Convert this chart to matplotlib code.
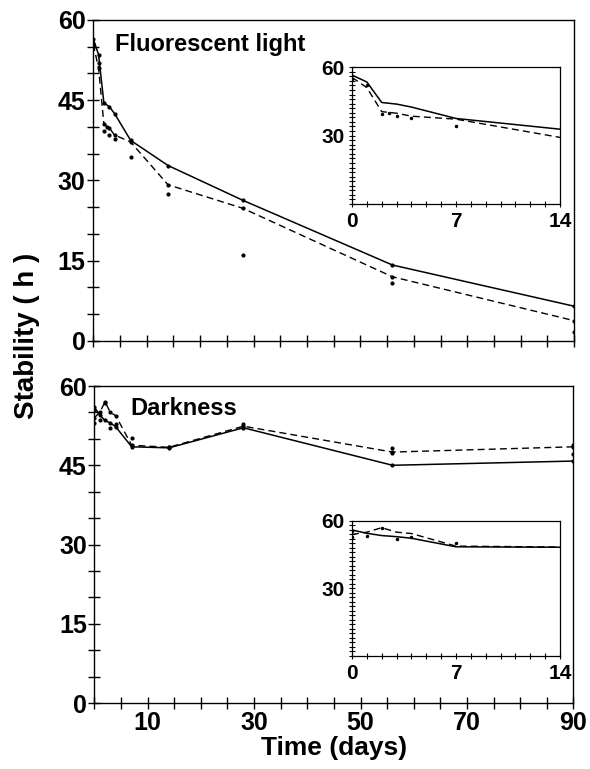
import numpy as np
import matplotlib
matplotlib.use("Agg")
import matplotlib.pyplot as plt
from matplotlib.ticker import MultipleLocator

plt.rcParams['font.family'] = ['Liberation Sans', 'DejaVu Sans']
plt.rcParams['font.weight'] = 'bold'

# fluorescent light: mean curves
days = [0, 1, 2, 3, 4, 7, 14, 28, 56, 90]
light_solid = [56.5, 53.5, 44.5, 43.8, 42.5, 37.5, 32.8, 26.3, 14.2, 6.5]
light_dash = [55.5, 51.0, 40.5, 39.8, 38.5, 37.2, 29.2, 24.8, 12.0, 3.8]
# single replicate points
light_pts_x = [0, 1, 2, 2.5, 3, 4, 7, 14, 28, 56, 90]
light_pts_y = [55.0, 52.0, 39.3, 40.0, 38.5, 37.7, 34.4, 27.5, 16.0, 10.8, 1.7]

# darkness
dark_solid = [56.0, 54.5, 53.5, 53.0, 52.3, 48.5, 48.3, 52.1, 45.0, 45.8]
dark_dash = [54.0, 55.0, 57.0, 55.0, 54.4, 48.8, 48.4, 52.4, 47.5, 48.5]
dark_pts_x = [0, 0, 1, 2, 3, 4, 7, 14, 28, 56, 56, 90, 90]
dark_pts_y = [53.0, 55.5, 53.5, 56.8, 52.0, 52.8, 50.2, 48.5, 52.8, 48.3, 47.4, 48.8, 47.2]

fig = plt.figure(figsize=(5.9, 7.69), dpi=100)

def style_main(ax, show_x):
    ax.set_xlim(0, 90)
    ax.set_ylim(0, 60)
    ax.set_yticks([0, 15, 30, 45, 60])
    ax.yaxis.set_minor_locator(MultipleLocator(5))
    ax.set_xticks([10, 30, 50, 70, 90])
    ax.xaxis.set_minor_locator(MultipleLocator(5))
    ax.tick_params(which='both', direction='inout', length=9, width=1,
                   labelsize=18, pad=1, top=False, right=False)
    if not show_x:
        ax.tick_params(axis='x', labelbottom=False)
    for s in ax.spines.values():
        s.set_linewidth(1)

def style_inset(ax):
    ax.set_xlim(0, 14)
    ax.set_ylim(0, 60)
    ax.set_xticks([0, 7, 14])
    ax.set_yticks([30, 60])
    ax.xaxis.set_minor_locator(MultipleLocator(1))
    ax.yaxis.set_minor_locator(MultipleLocator(2))
    ax.tick_params(which='both', direction='inout', length=5, width=0.8,
                   labelsize=15, pad=3)
    for s in ax.spines.values():
        s.set_linewidth(0.9)

# top panel
ax1 = fig.add_axes([0.158, 0.5566, 0.815, 0.4174])
ax1.plot(days, light_solid, color='black', lw=1.1, marker='o', ms=2)
ax1.plot(days, light_dash, color='black', lw=1, ls=(0, (5, 3)), marker='o', ms=2)
ax1.plot(light_pts_x, light_pts_y, 'o', color='black', ms=2)
style_main(ax1, False)
ax1.text(0.045, 0.925, 'Fluorescent light', transform=ax1.transAxes,
         fontsize=17, fontweight='bold', ha='left', va='center')

ins1 = fig.add_axes([0.5966, 0.7347, 0.3525, 0.178])
ins1.plot(days[:7], light_solid[:7], color='black', lw=1.1)
ins1.plot(days[:7], light_dash[:7], color='black', lw=1, ls=(0, (5, 3)))
ins1.plot(light_pts_x[:7], light_pts_y[:7], 'o', color='black', ms=1.5)
style_inset(ins1)

# bottom panel
ax2 = fig.add_axes([0.160, 0.0858, 0.812, 0.4122])
ax2.plot(days, dark_solid, color='black', lw=1.1, marker='o', ms=2)
ax2.plot(days, dark_dash, color='black', lw=1, ls=(0, (5, 3)), marker='o', ms=2)
ax2.plot(dark_pts_x, dark_pts_y, 'o', color='black', ms=2)
style_main(ax2, True)
ax2.text(0.075, 0.93, 'Darkness', transform=ax2.transAxes,
         fontsize=17, fontweight='bold', ha='left', va='center')
ax2.set_xlabel('Time (days)', fontsize=19, fontweight='bold', labelpad=1)

ins2 = fig.add_axes([0.5966, 0.147, 0.3525, 0.1756])
ins2.plot(days[:7], dark_solid[:7], color='black', lw=1.1)
ins2.plot(days[:7], dark_dash[:7], color='black', lw=1, ls=(0, (5, 3)))
ins2.plot(dark_pts_x[:7], dark_pts_y[:7], 'o', color='black', ms=1.5)
style_inset(ins2)

fig.text(0.045, 0.563, 'Stability ( h )', rotation=90, fontsize=20,
         fontweight='bold', ha='center', va='center')

fig.savefig('out.png', dpi=100)
